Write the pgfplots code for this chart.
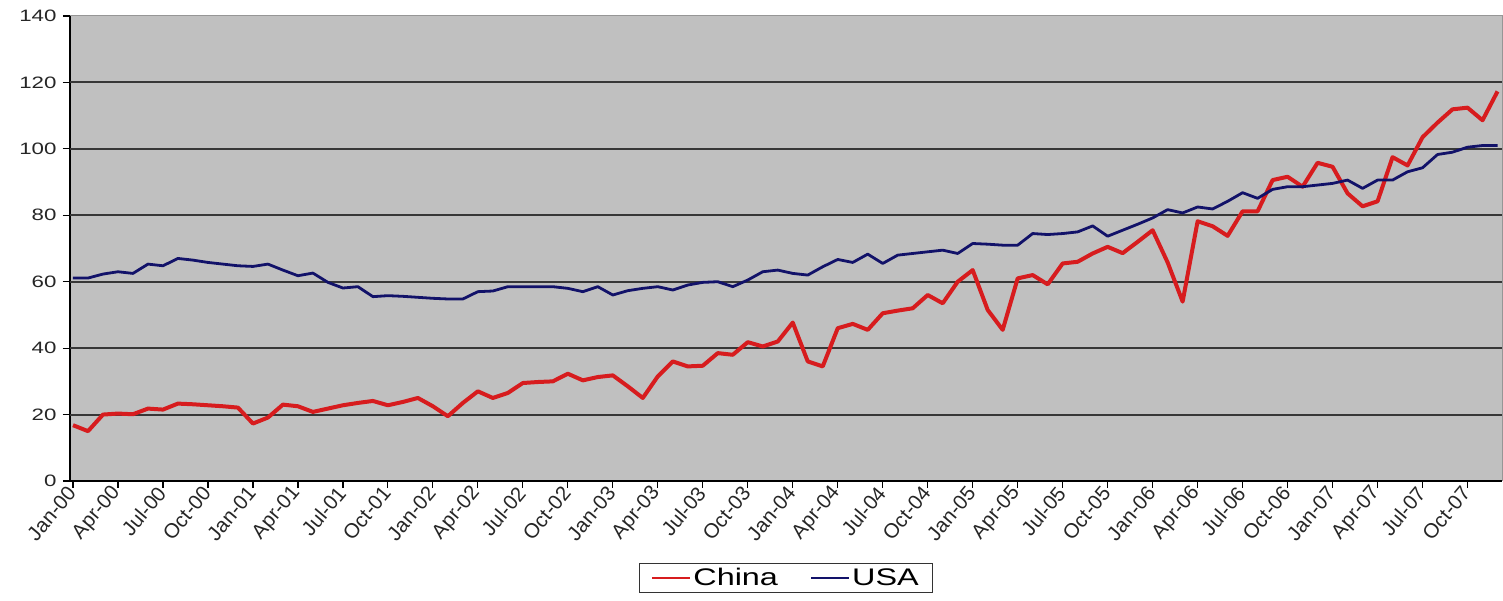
\documentclass[border=0pt]{standalone}
\usepackage{fontspec}
\setmainfont{Liberation Sans}
\usepackage{graphicx}
\usepackage{pgfplots}
\usepackage{pgfplotstable}
\pgfplotsset{compat=1.18}

\definecolor{plotbg}{RGB}{192,192,192}
\definecolor{chinared}{RGB}{215,28,30}
\definecolor{usanavy}{RGB}{18,18,105}
\definecolor{gridc}{RGB}{55,55,55}

% horizontally widened text, as in the (stretched) original picture
\newcommand{\wide}[1]{\scalebox{1.35}[1]{#1}}

% monthly index, Jan-00 = 0
\pgfplotstableread{
k china usa
0 16.8 61.1
1 15.0 61.1
2 20.0 62.3
3 20.3 63.0
4 20.1 62.5
5 21.8 65.3
6 21.5 64.8
7 23.3 67.0
8 23.1 66.5
9 22.8 65.8
10 22.5 65.3
11 22.1 64.8
12 17.3 64.6
13 19.1 65.3
14 23.0 63.5
15 22.5 61.8
16 20.8 62.6
17 21.8 59.8
18 22.8 58.1
19 23.5 58.5
20 24.1 55.5
21 22.8 55.8
22 23.8 55.6
23 25.0 55.3
24 22.5 55.0
25 19.5 54.8
26 23.5 54.8
27 27.0 57.0
28 25.0 57.2
29 26.5 58.5
30 29.5 58.5
31 29.8 58.5
32 30.0 58.5
33 32.3 58.0
34 30.3 57.0
35 31.3 58.5
36 31.8 56.0
37 28.5 57.3
38 25.0 58.0
39 31.5 58.5
40 36.0 57.5
41 34.5 59.0
42 34.7 59.8
43 38.5 60.0
44 38.0 58.5
45 41.8 60.5
46 40.5 63.0
47 42.0 63.5
48 47.7 62.5
49 36.0 62.0
50 34.5 64.5
51 46.0 66.7
52 47.3 65.8
53 45.5 68.3
54 50.5 65.5
55 51.3 68.0
56 52.0 68.5
57 56.0 69.0
58 53.5 69.5
59 60.0 68.5
60 63.5 71.5
61 51.5 71.3
62 45.5 71.0
63 61.0 71.0
64 62.0 74.5
65 59.2 74.2
66 65.5 74.5
67 66.0 75.0
68 68.5 76.8
69 70.5 73.7
70 68.6 75.5
71 72.0 77.3
72 75.5 79.2
73 65.8 81.7
74 54.0 80.7
75 78.2 82.5
76 76.7 81.9
77 73.8 84.2
78 81.2 86.8
79 81.2 85.1
80 90.6 87.8
81 91.6 88.6
82 88.6 88.6
83 95.8 89.1
84 94.6 89.6
85 86.6 90.6
86 82.7 88.1
87 84.2 90.6
88 97.5 90.6
89 95.0 93.1
90 103.5 94.3
91 107.9 98.3
92 111.9 99.0
93 112.4 100.5
94 108.6 101.0
95 117.3 101.0
}\tradedata

\begin{document}
\begin{tikzpicture}
\begin{axis}[
    width=1432pt, height=465pt, scale only axis,
    xmin=-0.2, xmax=95.3,
    ymin=0, ymax=140,
    axis lines=left,
    axis line style={-, black, line width=1.6pt},
    axis background/.style={fill=plotbg, draw={rgb,255:red,150;green,150;blue,150}, line width=1pt},
    ytick={0,20,...,140},
    yticklabel={\wide{\pgfmathprintnumber{\tick}}},
    extra y ticks={20,40,...,120},
    extra y tick labels={},
    extra y tick style={grid=major},
    grid style={gridc, line width=2pt},
    xtick={0,3,...,93},
    xticklabels={Jan-00,Apr-00,Jul-00,Oct-00,Jan-01,Apr-01,Jul-01,Oct-01,
                 Jan-02,Apr-02,Jul-02,Oct-02,Jan-03,Apr-03,Jul-03,Oct-03,
                 Jan-04,Apr-04,Jul-04,Oct-04,Jan-05,Apr-05,Jul-05,Oct-05,
                 Jan-06,Apr-06,Jul-06,Oct-06,Jan-07,Apr-07,Jul-07,Oct-07},
    tick align=outside,
    major tick length=7pt,
    tick style={black, line width=1.2pt},
    /pgf/number format/assume math mode=true,
    yticklabel style={font=\fontsize{16.5}{18}\selectfont, text=black!85, xshift=-3pt},
    xticklabel style={font=\fontsize{20.5}{22}\selectfont, text=black!85,
                      rotate=50, anchor=east, inner sep=2pt},
    legend style={at={(0.5,-0.1763)}, anchor=north,
        draw=black!80, line width=1.2pt, fill=white,
        font=\fontsize{24}{26}\selectfont,
        inner xsep=12pt, inner ysep=3pt,
        /tikz/every even column/.append style={column sep=30pt}},
    legend columns=2,
    legend cell align=left,
    legend image code/.code={\draw[#1, line width=2.2pt] (0pt,0pt) -- (38pt,0pt);},
]
\addplot[chinared, line width=4pt, line join=round] table[x=k, y=china] {\tradedata};
\addlegendentry{\wide{China}}
\addplot[usanavy, line width=2.8pt, line join=round] table[x=k, y=usa] {\tradedata};
\addlegendentry{\wide{USA}}
\end{axis}
\pgfresetboundingbox
\path (current axis.south west) ++(-70pt,-120pt) rectangle ++(1503pt,601pt);
\end{tikzpicture}
\end{document}
